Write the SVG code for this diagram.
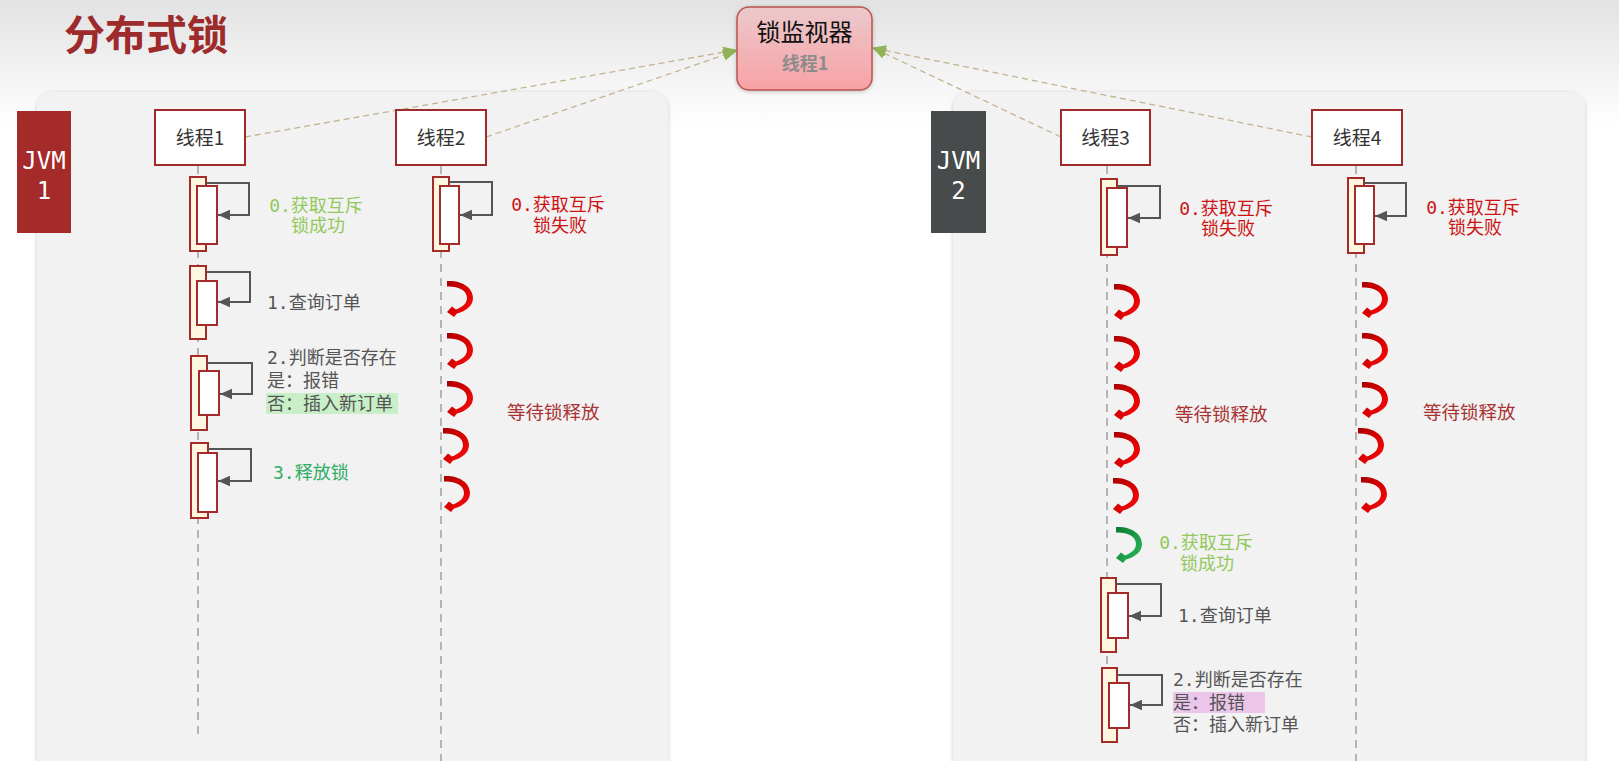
<svg xmlns="http://www.w3.org/2000/svg" width="1619" height="761" viewBox="0 0 1619 761">
<defs>
<style>
.thread rect{fill:#fff;stroke:#9e2a2b;stroke-width:2}
.thread text{font-family:"Noto Sans CJK SC","Noto Sans",sans-serif;font-size:19px;fill:#333;text-anchor:middle}
.jvm text{font-family:"DejaVu Sans Mono","Liberation Mono",monospace;font-size:24px;fill:#fff;text-anchor:middle}
.life{stroke:#b4b4b4;stroke-width:2;stroke-dasharray:8 6;fill:none}
.outer{fill:#fff6df;stroke:#a52a2a;stroke-width:2}
.inner{fill:#fff;stroke:#a52a2a;stroke-width:2}
.self{fill:none;stroke:#555;stroke-width:2;marker-end:url(#ah)}
.lbl{font-family:"DejaVu Sans Mono","Noto Sans CJK SC",monospace;font-size:18px}
.c{text-anchor:middle}
.lg{fill:#92c95c}
.rd{fill:#cc1414}
.gy{fill:#555}
.gn{fill:#2fad66}
.wt{font-family:"Noto Sans CJK SC",sans-serif;font-size:18.5px;fill:#a93232}
.link{fill:none;stroke:#c4b48e;stroke-width:1.3;stroke-dasharray:6 4;marker-end:url(#oa)}
</style>
<linearGradient id="bg" x1="0" y1="0" x2="0" y2="1">
<stop offset="0" stop-color="#e2e2e2"/>
<stop offset="1" stop-color="#ffffff"/>
</linearGradient>
<linearGradient id="mon" x1="0" y1="0" x2="0" y2="1">
<stop offset="0" stop-color="#ebc9cc"/>
<stop offset="1" stop-color="#f8a2a5"/>
</linearGradient>
<linearGradient id="red" x1="0" y1="0" x2="1" y2="1">
<stop offset="0" stop-color="#a80000"/>
<stop offset="0.5" stop-color="#d80000"/>
<stop offset="1" stop-color="#ff1010"/>
</linearGradient>
<linearGradient id="grn" x1="0" y1="0" x2="1" y2="1">
<stop offset="0" stop-color="#0b7a33"/>
<stop offset="1" stop-color="#2dbb5e"/>
</linearGradient>
<filter id="sh" x="-5%" y="-5%" width="110%" height="110%">
<feDropShadow dx="0" dy="1" stdDeviation="2" flood-color="#000" flood-opacity="0.22"/>
</filter>
<marker id="ah" markerUnits="userSpaceOnUse" markerWidth="12" markerHeight="12" viewBox="0 0 12 12" refX="12" refY="6" orient="auto">
<path d="M12,6 L0,0.8 L0,11.2 Z" fill="#555"/>
</marker>
<marker id="oa" markerUnits="userSpaceOnUse" markerWidth="14" markerHeight="12" viewBox="0 0 14 12" refX="13" refY="6" orient="auto">
<path d="M14,6 L0,0.5 L0,11.5 Z" fill="#8fb356"/>
</marker>
<path id="curl" d="M0,0 C12,-1 26,5 26,17 C26,25 19,30 10,32.5 L7,36 L0,31 L5,25.5 L9,28.5 C16,26 20,22 20,17 C20,9 11,5 0,5.5 Z"/>
</defs>

<g id="background">
<rect x="0" y="0" width="1619" height="761" fill="#fff"/>
<rect x="0" y="0" width="1619" height="125" fill="url(#bg)"/>
<rect id="panel-jvm1" x="37" y="92" width="631" height="690" rx="16" fill="#f2f2f2" filter="url(#sh)"/>
<rect id="panel-jvm2" x="953" y="92" width="632" height="690" rx="16" fill="#f2f2f2" filter="url(#sh)"/>
<text x="64" y="50" font-family="Noto Sans CJK SC,sans-serif" font-size="41" font-weight="bold" fill="#9e2b2b">分布式锁</text>
</g>

<g id="connectors">
<path class="link" d="M245,137 L736,50"/>
<path class="link" d="M486,137 L736,51"/>
<path class="link" d="M1061,137 L873,48"/>
<path class="link" d="M1312,137 L873,48"/>
</g>

<g id="lifelines">
<path class="life" d="M198,166 V738"/>
<path class="life" d="M441,166 V761"/>
<path class="life" d="M1107,166 V742"/>
<path class="life" d="M1356,166 V761"/>
</g>

<g id="monitor">
<rect x="737" y="7" width="135" height="83" rx="12" fill="url(#mon)" stroke="#b85450" stroke-width="1.5" filter="url(#sh)"/>
<text x="804.5" y="41" text-anchor="middle" font-family="Noto Sans CJK SC,sans-serif" font-size="24" fill="#111">锁监视器</text>
<text x="805" y="70" text-anchor="middle" font-family="Noto Sans CJK SC,sans-serif" font-size="18" font-weight="bold" fill="#8c8c8c">线程1</text>
</g>

<g id="jvm1" class="jvm">
<rect x="17" y="111" width="54" height="122" fill="#a52a2a"/>
<text x="44" y="169">JVM</text>
<text x="44" y="199">1</text>
</g>
<g id="jvm2" class="jvm">
<rect x="931" y="111" width="55" height="122" fill="#474b4c"/>
<text x="958.5" y="169">JVM</text>
<text x="958.5" y="199">2</text>
</g>

<g id="thread1" class="thread">
<rect x="155" y="110" width="90" height="55"/>
<text x="200" y="145">线程1</text>
</g>
<g id="thread2" class="thread">
<rect x="396" y="110" width="90" height="55"/>
<text x="441" y="145">线程2</text>
</g>
<g id="thread3" class="thread">
<rect x="1061" y="110" width="89" height="55"/>
<text x="1105.5" y="145">线程3</text>
</g>
<g id="thread4" class="thread">
<rect x="1312" y="110" width="90" height="55"/>
<text x="1357" y="145">线程4</text>
</g>

<g id="activations">
<!-- thread1 -->
<rect class="outer" x="190" y="177" width="16" height="74"/>
<rect class="inner" x="197" y="186" width="20" height="58"/>
<path class="self" d="M206,183 H249 V215 H218"/>
<rect class="outer" x="190" y="266" width="16" height="73"/>
<rect class="inner" x="197" y="281" width="20" height="44"/>
<path class="self" d="M206,272 H250 V302 H218"/>
<rect class="outer" x="191" y="356" width="16" height="74"/>
<rect class="inner" x="199" y="371" width="20" height="44"/>
<path class="self" d="M207,363 H252 V394 H220"/>
<rect class="outer" x="191" y="443" width="17" height="75"/>
<rect class="inner" x="198" y="453" width="19" height="59"/>
<path class="self" d="M208,449 H251 V481 H218"/>
<!-- thread2 -->
<rect class="outer" x="433" y="177" width="16" height="74"/>
<rect class="inner" x="440" y="186" width="19" height="58"/>
<path class="self" d="M449,182 H492 V215 H460"/>
<!-- thread3 -->
<rect class="outer" x="1101" y="179" width="16" height="76"/>
<rect class="inner" x="1107" y="188" width="20" height="59"/>
<path class="self" d="M1117,186 H1160 V218 H1128"/>
<rect class="outer" x="1101" y="578" width="15" height="74"/>
<rect class="inner" x="1108" y="593" width="20" height="45"/>
<path class="self" d="M1116,584 H1161 V616 H1129"/>
<rect class="outer" x="1102" y="668" width="15" height="74"/>
<rect class="inner" x="1109" y="683" width="20" height="45"/>
<path class="self" d="M1117,675 H1162 V705 H1130"/>
<!-- thread4 -->
<rect class="outer" x="1348" y="178" width="16" height="75"/>
<rect class="inner" x="1355" y="186" width="19" height="58"/>
<path class="self" d="M1364,183 H1406 V216 H1375"/>
</g>

<g id="wait-arrows">
<use href="#curl" x="447" y="281" fill="url(#red)"/>
<use href="#curl" x="447" y="333" fill="url(#red)"/>
<use href="#curl" x="447" y="381" fill="url(#red)"/>
<use href="#curl" x="443" y="428" fill="url(#red)"/>
<use href="#curl" x="444" y="476" fill="url(#red)"/>
<use href="#curl" x="1114" y="284" fill="url(#red)"/>
<use href="#curl" x="1114" y="336" fill="url(#red)"/>
<use href="#curl" x="1114" y="384" fill="url(#red)"/>
<use href="#curl" x="1114" y="432" fill="url(#red)"/>
<use href="#curl" x="1113" y="478" fill="url(#red)"/>
<use href="#curl" x="1362" y="282" fill="url(#red)"/>
<use href="#curl" x="1362" y="333" fill="url(#red)"/>
<use href="#curl" x="1362" y="382" fill="url(#red)"/>
<use href="#curl" x="1358" y="428" fill="url(#red)"/>
<use href="#curl" x="1361" y="477" fill="url(#red)"/>
<use href="#curl" x="1116" y="527" fill="url(#grn)"/>
</g>

<g id="labels">
<rect x="266" y="393" width="132" height="21" fill="#c8efc8"/>
<rect x="1173" y="692" width="92" height="21" fill="#ecc6ea"/>
<text class="lbl c lg" x="316" y="212">0.获取互斥</text>
<text class="lbl c lg" x="318" y="232">锁成功</text>
<text class="lbl gy" x="267" y="309">1.查询订单</text>
<text class="lbl gy" x="267" y="364">2.判断是否存在</text>
<text class="lbl gy" x="267" y="387">是：报错</text>
<text class="lbl gy" x="267" y="410">否：插入新订单</text>
<text class="lbl gn" x="273" y="479">3.释放锁</text>
<text class="lbl c rd" x="558" y="211">0.获取互斥</text>
<text class="lbl c rd" x="560" y="232">锁失败</text>
<text class="wt" x="507" y="419">等待锁释放</text>
<text class="lbl c rd" x="1226" y="215">0.获取互斥</text>
<text class="lbl c rd" x="1228" y="235">锁失败</text>
<text class="wt" x="1175" y="421">等待锁释放</text>
<text class="lbl c lg" x="1206" y="549">0.获取互斥</text>
<text class="lbl c lg" x="1207" y="570">锁成功</text>
<text class="lbl gy" x="1178" y="622">1.查询订单</text>
<text class="lbl gy" x="1173" y="686">2.判断是否存在</text>
<text class="lbl gy" x="1173" y="709">是：报错</text>
<text class="lbl gy" x="1173" y="731">否：插入新订单</text>
<text class="lbl c rd" x="1473" y="214">0.获取互斥</text>
<text class="lbl c rd" x="1475" y="234">锁失败</text>
<text class="wt" x="1423" y="419">等待锁释放</text>
</g>
</svg>
